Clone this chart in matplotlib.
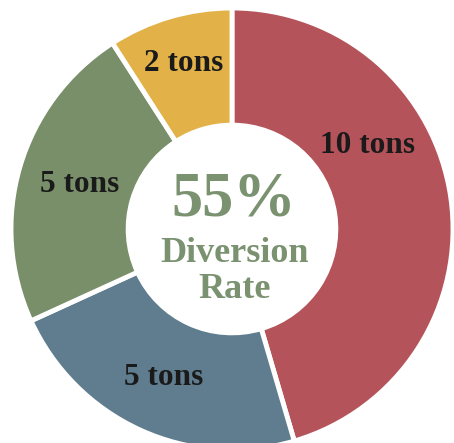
import numpy as np
import matplotlib.pyplot as plt

labels = ['10 tons', '5 tons', '5 tons', '2 tons']
tons = [10, 5, 5, 2]
colors = ['#b5535b', '#5f7d8e', '#788f6a', '#e2b249']
center_big = '55%'
center_lines = ['Diversion', 'Rate']

W, H = 454, 443
cx, cy, R = 232, 229, 221   # pixel centre / radius of the donut

fig = plt.figure(figsize=(W / 100, H / 100), dpi=100)
ax = fig.add_axes([0, 0, 1, 1])

ax.pie(tons, colors=colors, startangle=90, counterclock=False, radius=1.0,
       wedgeprops=dict(width=0.53, edgecolor='white', linewidth=3.5))

# pie() resets the limits, so set them afterwards
ax.set_xlim(-cx / R, (W - cx) / R)
ax.set_ylim(-(H - cy) / R, cy / R)
ax.set_aspect('equal')
ax.axis('off')

serif = 'Liberation Serif'

# label placement: angle measured clockwise from top, radius as fraction
lab_ang = [58.4, 204.6, 286.4, 343.7]
lab_rad = [0.72, 0.74, 0.72, 0.78]
for lab, a, r in zip(labels, lab_ang, lab_rad):
    t = np.deg2rad(a)
    ax.text(r * np.sin(t), r * np.cos(t), lab, ha='center', va='center',
            fontsize=22.5, fontweight='bold', family=serif, color='#1a1a1a')

green = '#7a9270'
ax.text(0.01, 14 / R, center_big, ha='center', va='baseline', fontsize=45,
        fontweight='bold', family=serif, color=green)
ax.text(0.01, -33 / R, center_lines[0], ha='center', va='baseline', fontsize=26,
        fontweight='bold', family=serif, color=green)
ax.text(0.01, -69 / R, center_lines[1], ha='center', va='baseline', fontsize=26,
        fontweight='bold', family=serif, color=green)

fig.savefig('out.png', dpi=100)
